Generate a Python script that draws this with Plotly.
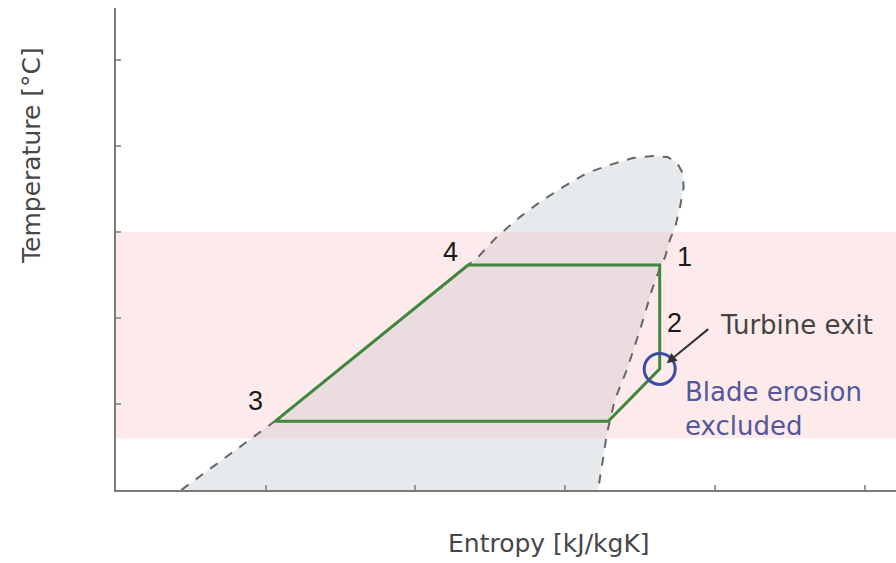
import plotly.graph_objects as go

# Saturation dome of the working fluid (entropy kJ/kgK, temperature °C)
dome_s = [1.109, 1.266, 1.588, 1.603, 1.636, 1.675, 1.708, 1.747, 1.787, 1.825,
          1.863, 1.897, 1.921, 1.937, 1.946, 1.948, 1.942, 1.934, 1.925, 1.917,
          1.910, 1.895, 1.875, 1.853, 1.833, 1.820, 1.813, 1.805]
dome_T = [25.0, 45.1, 90.4, 92.4, 98.6, 104.4, 108.7, 113.1, 117.2, 119.5,
          121.5, 122.1, 121.8, 120.1, 117.2, 113.1, 107.3, 101.5, 97.7, 92.7,
          90.4, 83.1, 71.5, 59.9, 51.2, 41.6, 33.7, 25.0]

# Cycle state points: 3 -> 4 -> 1 -> 2 -> condenser inlet -> 3
cycle_labels = ["3", "4", "1", "2", ""]
cycle_s = [1.266, 1.588, 1.908, 1.908, 1.822]
cycle_T = [45.0, 90.4, 90.4, 60.2, 45.0]

# Temperature window of the heat source / sink
band_T = [40.0, 100.0]

# Axes
s_range = [1.0, 2.3026]
T_range = [25.0, 165.1]
s_ticks = [1.25, 1.5, 1.75, 2.0, 2.25]
T_ticks = [50, 75, 100, 125, 150]

fig = go.Figure()

# dome interior
fig.add_trace(go.Scatter(
    x=dome_s, y=dome_T, mode="lines", fill="toself",
    fillcolor="#e6eaed", line=dict(width=0), hoverinfo="skip"))

# heat source band
fig.add_trace(go.Scatter(
    x=[s_range[0], s_range[1], s_range[1], s_range[0]],
    y=[band_T[0], band_T[0], band_T[1], band_T[1]],
    mode="lines", fill="toself", fillcolor="rgba(250,190,192,0.30)",
    line=dict(width=0), hoverinfo="skip"))

# dome outline
fig.add_trace(go.Scatter(
    x=dome_s, y=dome_T, mode="lines",
    line=dict(color="#666666", width=2, dash="dash"), hoverinfo="skip"))

# cycle
fig.add_trace(go.Scatter(
    x=cycle_s + [cycle_s[0]], y=cycle_T + [cycle_T[0]], mode="lines",
    line=dict(color="#3f873c", width=3), hoverinfo="skip"))

# turbine exit marker
fig.add_trace(go.Scatter(
    x=[cycle_s[3]], y=[cycle_T[3]], mode="markers",
    marker=dict(symbol="circle-open", size=31, color="#3d4ba3",
                line=dict(color="#3d4ba3", width=3)),
    hoverinfo="skip"))

digit_font = dict(family="Liberation Sans, Arial", size=27, color="#1a1a1a")
offsets = {"3": (-20, 20), "4": (-18, 13), "1": (25, 8), "2": (15, 46)}
for lab, s, T in zip(cycle_labels, cycle_s, cycle_T):
    if not lab:
        continue
    dx, dy = offsets[lab]
    fig.add_annotation(x=s, y=T, text=lab, showarrow=False, font=digit_font,
                       xshift=dx, yshift=dy)

# arrow to the turbine exit
fig.add_annotation(x=cycle_s[3], y=cycle_T[3], text="", showarrow=True,
                   ax=50, ay=-41, arrowhead=2, arrowsize=1, arrowwidth=2,
                   arrowcolor="#333333", standoff=9)
fig.add_annotation(x=2.0053, y=73.0, text="Turbine exit", showarrow=False,
                   xanchor="left", yanchor="middle",
                   font=dict(family="DejaVu Sans", size=26, color="#444444"))
fig.add_annotation(x=1.9469, y=48.4, text="Blade erosion<br>excluded",
                   showarrow=False, xanchor="left", yanchor="middle", align="left",
                   font=dict(family="DejaVu Sans", size=26, color="#54579a"))

# axis titles
title_font = dict(family="DejaVu Sans", size=25, color="#474747")
fig.add_annotation(xref="paper", yref="paper", x=-0.109, y=0.695,
                   xanchor="center", yanchor="middle",
                   text="Temperature [°C]", textangle=-90, showarrow=False,
                   font=title_font)
fig.add_annotation(xref="paper", yref="paper", x=0.555, y=-0.11,
                   xanchor="center", yanchor="middle",
                   text="Entropy [kJ/kgK]", showarrow=False, font=title_font)

axis_common = dict(showline=True, linecolor="#7a7a7a", linewidth=2,
                   ticks="inside", ticklen=5, tickcolor="#9a9a9a", tickwidth=1.5,
                   showgrid=False, zeroline=False, showticklabels=False)
fig.update_xaxes(range=s_range, tickvals=s_ticks, **axis_common)
fig.update_yaxes(range=T_range, tickvals=T_ticks, **axis_common)

fig.update_layout(
    width=896, height=563,
    margin=dict(l=116, r=0, t=8, b=73),
    paper_bgcolor="white", plot_bgcolor="white",
    showlegend=False,
)

fig.write_html("out.html")
